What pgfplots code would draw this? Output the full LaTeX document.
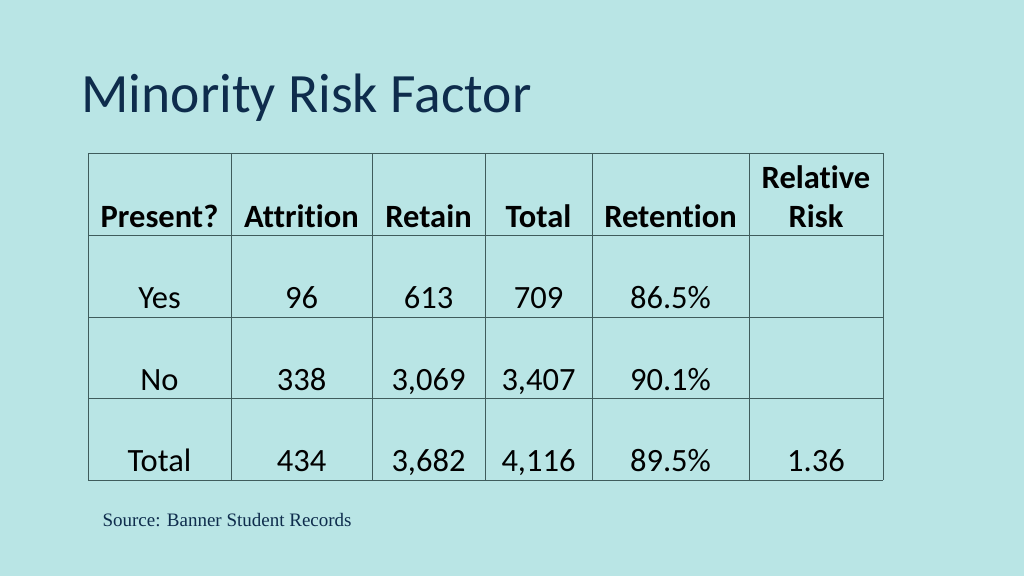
\documentclass[border=0pt]{standalone}
\usepackage{pgfplots}
\pgfplotsset{compat=1.18}
\usepackage{fontspec}
\setmainfont{Carlito}[Ligatures=NoCommon]
\newfontfamily\srcfont{Liberation Serif}

\definecolor{slidebg}{HTML}{B9E5E5}
\definecolor{titlecol}{HTML}{0E2C4C}
\definecolor{rulecol}{HTML}{3F5C5C}

\tikzset{
    cell/.style={anchor=base, font=\fontsize{32.5}{36}\selectfont},
    head/.style={anchor=base, font=\fontsize{32.5}{36}\selectfont\bfseries},
}

\begin{document}
\begin{tikzpicture}
\begin{axis}[
    width=1024pt, height=576pt, scale only axis,
    xmin=0, xmax=1024, ymin=0, ymax=576,
    y dir=reverse,
    axis line style={draw=none},
    ticks=none,
    axis background/.style={fill=slidebg},
    clip=false,
]
% table rules: horizontal
\addplot[rulecol, line width=0.8pt] coordinates {(88,153) (883,153)};
\addplot[rulecol, line width=0.8pt] coordinates {(88,235) (883,235)};
\addplot[rulecol, line width=0.8pt] coordinates {(88,317) (883,317)};
\addplot[rulecol, line width=0.8pt] coordinates {(88,398) (883,398)};
\addplot[rulecol, line width=0.8pt] coordinates {(88,480) (883,480)};
% vertical
\addplot[rulecol, line width=0.8pt] coordinates {(88,153) (88,480)};
\addplot[rulecol, line width=0.8pt] coordinates {(231,153) (231,480)};
\addplot[rulecol, line width=0.8pt] coordinates {(372,153) (372,480)};
\addplot[rulecol, line width=0.8pt] coordinates {(485,153) (485,480)};
\addplot[rulecol, line width=0.8pt] coordinates {(592,153) (592,480)};
\addplot[rulecol, line width=0.8pt] coordinates {(749,153) (749,480)};
\addplot[rulecol, line width=0.8pt] coordinates {(883,153) (883,480)};

% title
\node[anchor=base west, text=titlecol, font=\fontsize{55.5}{60}\selectfont]
  at (axis cs:78,112) {Minority Risk Factor};

% header
\node[head] at (axis cs:159.5,227) {Present?};
\node[head] at (axis cs:301.5,227) {Attrition};
\node[head] at (axis cs:428.5,227) {Retain};
\node[head] at (axis cs:538.5,227) {Total};
\node[head] at (axis cs:670.5,227) {Retention};
\node[head] at (axis cs:816,188) {Relative};
\node[head] at (axis cs:816,227) {Risk};

% rows
\node[cell] at (axis cs:159.5,308) {Yes};
\node[cell] at (axis cs:301.5,308) {96};
\node[cell] at (axis cs:428.5,308) {613};
\node[cell] at (axis cs:538.5,308) {709};
\node[cell] at (axis cs:670.5,308) {86.5\%};

\node[cell] at (axis cs:159.5,390) {No};
\node[cell] at (axis cs:301.5,390) {338};
\node[cell] at (axis cs:428.5,390) {3,069};
\node[cell] at (axis cs:538.5,390) {3,407};
\node[cell] at (axis cs:670.5,390) {90.1\%};

\node[cell] at (axis cs:159.5,471) {Total};
\node[cell] at (axis cs:301.5,471) {434};
\node[cell] at (axis cs:428.5,471) {3,682};
\node[cell] at (axis cs:538.5,471) {4,116};
\node[cell] at (axis cs:670.5,471) {89.5\%};
\node[cell] at (axis cs:816,471) {1.36};

% source
\node[anchor=base west, text=titlecol, font=\srcfont\fontsize{19}{22}\selectfont]
  at (axis cs:99,526) {Source: Banner Student Records};
\end{axis}
\end{tikzpicture}
\end{document}
